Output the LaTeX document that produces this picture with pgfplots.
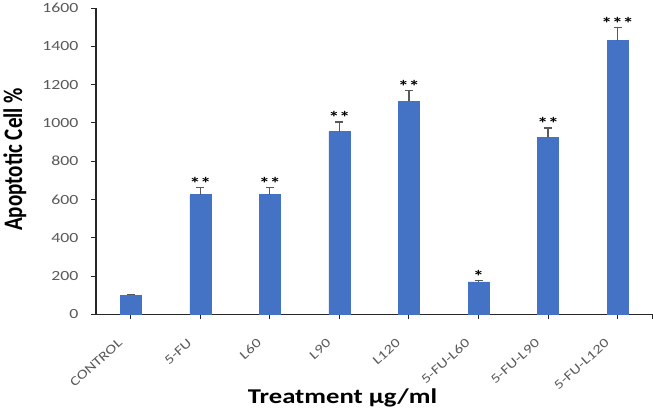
\documentclass[border=0pt]{standalone}
\usepackage{fontspec}
\setmainfont{Carlito}
\usepackage{pgfplots}
\pgfplotsset{compat=1.18}
\usepackage{pgfplotstable}
\definecolor{barblue}{HTML}{4472C4}
\definecolor{ticklbl}{HTML}{595959}
\definecolor{axisdark}{HTML}{262626}
\pgfplotstableread{
x val err
0 100 5
1 625 38
2 625 37
3 955 50
4 1112 56
5 170 8
6 925 49
7 1430 68
}\data
\newcommand{\sx}[1]{\scalebox{1.27}[1]{#1}}
\newcommand{\rlab}[1]{\rotatebox{42}{\strut\sx{#1}}}
\begin{document}
\begin{tikzpicture}
\begin{axis}[
  scale only axis,
  width=556pt, height=306pt,
  xmin=-0.5, xmax=7.5,
  ymin=0, ymax=1600,
  ytick={0,200,...,1600},
  xtick={0,...,7},
  xticklabels={\rlab{CONTROL},\rlab{5-FU},\rlab{L60},\rlab{L90},\rlab{L120},\rlab{5-FU-L60},\rlab{5-FU-L90},\rlab{5-FU-L120}},
  extra x ticks={7.5},
  extra x tick labels={},
  axis x line=bottom, axis y line=left,
  axis line style={-, axisdark, line width=1.3pt},
  tick align=outside,
  major tick length=5pt,
  tick style={axisdark, line width=1pt},
  yticklabel={\sx{\pgfmathprintnumber[assume math mode=true,1000 sep={}]{\tick}}},
  yticklabel style={font=\fontsize{14}{14}\selectfont, text=ticklbl, xshift=-9pt},
  xticklabel style={font=\fontsize{13}{13}\selectfont, text=ticklbl, anchor=north east, inner sep=0pt, yshift=-18pt, xshift=-5pt},
  ylabel={\scalebox{1}[1.27]{\textbf{Apoptotic Cell \%}}},
  ylabel style={font=\fontsize{21}{21}\selectfont, at={(axis description cs:-0.146,0.506)}, anchor=center},
  xlabel={\sx{\textbf{Treatment µg/ml}}},
  xlabel style={font=\fontsize{21}{21}\selectfont, at={(axis description cs:0.443,-0.274)}, anchor=center},
  clip=false,
]
\addplot[ybar, bar width=21pt, fill=barblue, draw=barblue,
  error bars/.cd, y dir=plus, y explicit,
  error bar style={ticklbl, line width=1.2pt},
  error mark options={rotate=90, mark size=4pt, ticklbl, line width=1.2pt}]
  table[x=x, y=val, y error=err] {\data};
\addplot[draw=none, mark=none,
  nodes near coords={\sx{\pgfplotspointmeta}}, point meta=explicit symbolic,
  nodes near coords style={font=\bfseries\fontsize{17}{17}\selectfont, anchor=south, inner sep=0pt, yshift=-2pt, text=black}]
  coordinates {(1,663)[**] (2,662)[**] (3,1005)[**] (4,1168)[**] (5,178)[*] (6,974)[**] (7,1498)[***]};
\end{axis}
\end{tikzpicture}
\end{document}
